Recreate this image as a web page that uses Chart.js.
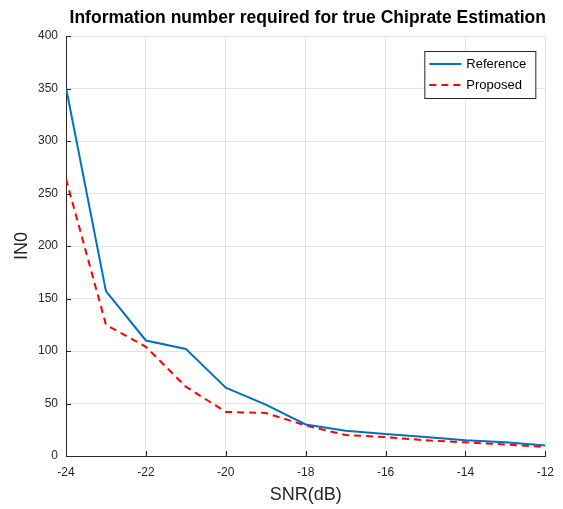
<!DOCTYPE html>
<html lang="en">
<head>
  <meta charset="UTF-8" />
  <title>Information number required for true Chiprate Estimation</title>
  <script src="https://cdn.jsdelivr.net/npm/chart.js"></script>
  <style>
    html, body {
      margin: 0;
      padding: 0;
      background: #fff;
    }
    canvas {
      display: block;
    }
  </style>
</head>
<body>
  <canvas id="lineChart" width="563" height="509"></canvas>

  <script>
    // SNR values (x), in dB
    const snr = [-24, -23, -22, -21, -20, -19, -18, -17, -16, -15, -14, -13, -12];
    // IN0
    const reference = [351, 157, 110, 102, 65, 49, 30, 24, 21, 18, 15, 13, 10];
    const proposed = [264, 125, 104, 66, 42, 41, 29, 20, 18, 15, 13, 11, 8.5];

    const xTicks = [-24, -22, -20, -18, -16, -14, -12];
    const yTicks = [0, 50, 100, 150, 200, 250, 300, 350, 400];

    const axisColor = '#262626';
    const gridColor = 'rgba(0,0,0,0.1)';
    const fontName = "'Liberation Sans', Arial, sans-serif";

    // small legend drawn inside the plot, top right
    const insideLegend = {
      id: 'insideLegend',
      afterDraw(chart) {
        const c = chart.ctx;
        const area = chart.chartArea;
        const w = 111, h = 47;
        const x = area.right - 121, y = area.top + 15;
        c.save();
        c.fillStyle = '#fff';
        c.fillRect(x, y, w, h);
        c.strokeStyle = axisColor;
        c.lineWidth = 1;
        c.strokeRect(x + 0.5, y + 0.5, w, h);
        c.font = '13px ' + fontName;
        c.textBaseline = 'middle';
        chart.data.datasets.forEach((ds, i) => {
          const ly = y + 13 + i * 21;
          c.strokeStyle = ds.borderColor;
          c.lineWidth = ds.borderWidth;
          c.setLineDash(ds.borderDash || []);
          c.beginPath();
          c.moveTo(x + 5, ly);
          c.lineTo(x + 37, ly);
          c.stroke();
          c.setLineDash([]);
          c.fillStyle = '#000';
          c.fillText(ds.label, x + 42, ly);
        });
        c.restore();
      }
    };

    // MATLAB-style inward tick marks
    const innerTicks = {
      id: 'innerTicks',
      afterDatasetsDraw(chart) {
        const c = chart.ctx;
        const area = chart.chartArea;
        const xs = chart.scales.x, ys = chart.scales.y;
        c.save();
        c.strokeStyle = axisColor;
        c.lineWidth = 1;
        c.beginPath();
        xTicks.forEach(v => {
          const px = Math.round(xs.getPixelForValue(v)) + 0.5;
          c.moveTo(px, area.bottom);
          c.lineTo(px, area.bottom - 5);
        });
        yTicks.forEach(v => {
          const py = Math.round(ys.getPixelForValue(v)) + 0.5;
          c.moveTo(area.left, py);
          c.lineTo(area.left + 5, py);
        });
        c.stroke();
        c.restore();
      }
    };

    const ctx = document.getElementById('lineChart').getContext('2d');

    new Chart(ctx, {
      type: 'line',
      data: {
        datasets: [{
          label: 'Reference',
          data: snr.map((x, i) => ({ x: x, y: reference[i] })),
          borderColor: '#0072BD',
          borderWidth: 2,
          pointRadius: 0,
          tension: 0,
          fill: false
        }, {
          label: 'Proposed',
          data: snr.map((x, i) => ({ x: x, y: proposed[i] })),
          borderColor: '#FF0000',
          borderWidth: 2,
          borderDash: [7, 5],
          pointRadius: 0,
          tension: 0,
          fill: false
        }]
      },
      options: {
        responsive: false,
        animation: false,
        devicePixelRatio: 1,
        layout: {
          padding: { left: 0, right: 17, top: 0, bottom: 0 }
        },
        plugins: {
          legend: { display: false },
          tooltip: { enabled: false },
          title: {
            display: true,
            align: 'end',
            text: 'Information number required for true Chiprate Estimation',
            color: '#000',
            font: { family: fontName, size: 17.5, weight: 'bold', lineHeight: 1.2 },
            padding: { top: 8, bottom: 7 }
          }
        },
        scales: {
          x: {
            type: 'linear',
            min: -24,
            max: -12,
            afterBuildTicks(scale) {
              scale.ticks = xTicks.map(v => ({ value: v }));
            },
            afterFit(scale) {
              scale.height = 53;
            },
            grid: {
              color: gridColor,
              drawTicks: false
            },
            border: { color: axisColor, width: 1 },
            ticks: {
              color: axisColor,
              padding: 9,
              maxRotation: 0,
              font: { family: fontName, size: 12 }
            },
            title: {
              display: true,
              text: 'SNR(dB)',
              color: axisColor,
              padding: { top: 0, bottom: 3 },
              font: { family: fontName, size: 18 }
            }
          },
          y: {
            type: 'linear',
            min: 0,
            max: 400,
            afterBuildTicks(scale) {
              scale.ticks = yTicks.map(v => ({ value: v }));
            },
            afterFit(scale) {
              scale.width = 66;
            },
            grid: {
              color: gridColor,
              drawTicks: false
            },
            border: { color: axisColor, width: 1 },
            ticks: {
              color: axisColor,
              padding: 8,
              font: { family: fontName, size: 12 }
            },
            title: {
              display: true,
              text: 'IN0',
              color: axisColor,
              padding: { top: 11, bottom: 0 },
              font: { family: fontName, size: 18 }
            }
          }
        }
      },
      plugins: [innerTicks, insideLegend]
    });
  </script>
</body>
</html>
